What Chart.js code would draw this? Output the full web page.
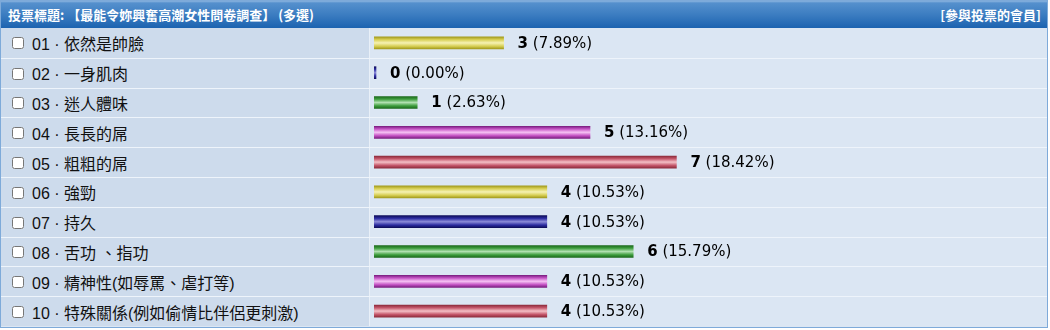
<!DOCTYPE html>
<html>
<head>
<meta charset="utf-8">
<script src="https://cdn.jsdelivr.net/npm/chart.js@4.4.1/dist/chart.umd.min.js"></script>
<style>
  body { margin: 0; background: #fff; }
  #poll {
    position: relative;
    width: 1046px;
    height: 326px;
    border: 1px solid #7eaad9;
    background: #dbe6f3;
    overflow: hidden;
  }
  .head {
    height: 27px;
    background: linear-gradient(#8ab4e0 0, #5590cd 2px, #3c7dc1 50%, #1c63b0 100%);
    color: #fff;
    font: bold 13px "Noto Sans CJK TC", "DejaVu Sans", sans-serif;
    line-height: 27px;
    padding: 0 6px 0 7px;
    display: flex;
    justify-content: space-between;
  }
  .row {
    height: 28.8px;
    border-top: 1px solid #eef4fb;
    display: flex;
  }
  .row:first-of-type { border-top: none; height: 29.8px; }
  .cell-left {
    width: 368px;
    background: #cddbec;
    border-right: 1px solid #e9f0f8;
    display: flex;
    align-items: center;
    font: 16px "Liberation Sans", "Noto Sans CJK TC", sans-serif;
    color: #111;
  }
  .cell-left input { width: 12px; height: 12px; margin: 1px 8px 0 11px; }
  .cell-right { flex: 1; }
  #chartBox { position: absolute; left: 373px; top: 27px; }
</style>
</head>
<body>
<div id="poll">
  <div class="head"><span>投票標題: 【最能令妳興奮高潮女性問卷調查】 (多選)</span><span>[參與投票的會員]</span></div>
  <div id="rows"></div>
  <div id="chartBox"><canvas id="pollChart" width="648" height="298"></canvas></div>
</div>
<script>
// poll options and vote counts
const options = ['依然是帥臉', '一身肌肉', '迷人體味', '長長的屌', '粗粗的屌', '強勁', '持久', '舌功 、指功', '精神性(如辱罵、虐打等)', '特殊關係(例如偷情比伴侶更刺激)'];
const votes = [3, 0, 1, 5, 7, 4, 4, 6, 4, 4];

// tube colours cycle: yellow, blue, green, magenta, red
const tubeColors = [
  ['#a39b1e', '#d6ce52', '#f6f2b4'],
  ['#0e0e5c', '#2b2ba0', '#8c8cd8'],
  ['#1b6a1b', '#3c9c3c', '#b0e0b0'],
  ['#7c1f82', '#c452c4', '#f6c2f4'],
  ['#8e2c3c', '#c4566a', '#f4c0c6']
];

const totalVotes = votes.reduce((a, b) => a + b, 0);

// left column rows
const rowsEl = document.getElementById('rows');
options.forEach((name, i) => {
  const row = document.createElement('div');
  row.className = 'row';
  const num = String(i + 1).padStart(2, '0');
  row.innerHTML = '<div class="cell-left"><input type="checkbox"><span>' + num + ' · ' + name + '</span></div><div class="cell-right"></div>';
  rowsEl.appendChild(row);
});

const BAR_H = 12;

function tubeFill(context) {
  const chart = context.chart;
  if (!chart.chartArea) return tubeColors[context.dataIndex % 5][1];
  const c = tubeColors[context.dataIndex % 5];
  const yc = chart.scales.y.getPixelForValue(context.dataIndex);
  const g = chart.ctx.createLinearGradient(0, yc - BAR_H / 2, 0, yc + BAR_H / 2);
  g.addColorStop(0, c[0]);
  g.addColorStop(0.22, c[1]);
  g.addColorStop(0.5, c[2]);
  g.addColorStop(0.78, c[1]);
  g.addColorStop(1, c[0]);
  return g;
}

// count (bold) + percentage after each bar
const voteLabels = {
  id: 'voteLabels',
  afterDatasetsDraw(chart) {
    const ctx = chart.ctx;
    const meta = chart.getDatasetMeta(0);
    ctx.save();
    ctx.textBaseline = 'middle';
    ctx.fillStyle = '#000';
    meta.data.forEach((bar, i) => {
      const x = bar.x + 14;
      const y = bar.y + 1;
      const count = String(votes[i]);
      const pct = ' (' + (votes[i] / totalVotes * 100).toFixed(2) + '%)';
      ctx.font = 'bold 15px "DejaVu Sans"';
      ctx.fillText(count, x, y);
      const w = ctx.measureText(count).width;
      ctx.font = '15px "DejaVu Sans"';
      ctx.fillText(pct, x + w, y);
    });
    ctx.restore();
  }
};

new Chart(document.getElementById('pollChart'), {
  type: 'bar',
  data: {
    labels: options,
    datasets: [{
      data: votes,
      backgroundColor: tubeFill,
      borderWidth: 0,
      barThickness: BAR_H,
      minBarLength: 2
    }]
  },
  options: {
    indexAxis: 'y',
    responsive: false,
    animation: false,
    devicePixelRatio: 1,
    layout: { padding: 0 },
    plugins: { legend: { display: false }, tooltip: { enabled: false } },
    scales: {
      x: { display: false, min: 0, max: 15 },
      y: { display: false }
    }
  },
  plugins: [voteLabels]
});
</script>
</body>
</html>
